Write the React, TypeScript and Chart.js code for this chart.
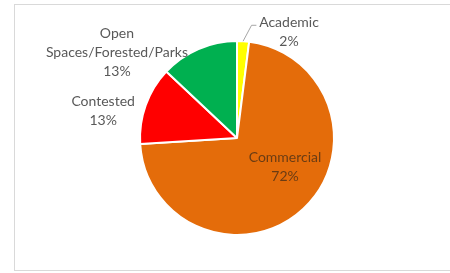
import React, { useEffect, useRef } from "react";
import { Chart, registerables } from "chart.js";

Chart.register(...registerables);

const categories = ["Academic", "Commercial", "Contested", "Open Spaces/Forested/Parks"];
const labelLines = [["Academic"], ["Commercial"], ["Contested"], ["Open", "Spaces/Forested/Parks"]];
const values = [2, 72, 13, 13];
const percentLabels = ["2%", "72%", "13%", "13%"];
const colors = ["#FFFF00", "#E46C0A", "#FF0000", "#00B050"];

const FONT = "14px Lato, 'Open Sans', sans-serif";
const LINE_H = 19;

const framePlugin = {
  id: "frame",
  beforeDraw(chart: any) {
    const ctx = chart.ctx;
    ctx.save();
    ctx.fillStyle = "#ffffff";
    ctx.fillRect(0, 0, chart.width, chart.height);
    ctx.strokeStyle = "#d9d9d9";
    ctx.lineWidth = 1;
    ctx.strokeRect(14.5, 4.5, chart.width, chart.height - 7);
    ctx.restore();
  },
};

const labelPlugin = {
  id: "pieLabels",
  afterDatasetsDraw(chart: any) {
    const ctx = chart.ctx;
    const meta = chart.getDatasetMeta(0);
    const arcs = meta.data;
    if (!arcs.length) return;
    const cx = arcs[0].x;
    const cy = arcs[0].y;
    const R = arcs[0].outerRadius;
    // label centres (offsets in units of radius from pie centre)
    const offs = [
      [0.536, -1.095],
      [0.495, 0.3],
      [-1.38, -0.275],
      [-1.238, -0.885],
    ];
    ctx.save();
    ctx.font = FONT;
    ctx.textAlign = "center";
    ctx.textBaseline = "middle";
    arcs.forEach((arc: any, i: number) => {
      const lines = [...labelLines[i], percentLabels[i]];
      const x = cx + offs[i][0] * R;
      const yc = cy + offs[i][1] * R;
      const y0 = yc - ((lines.length - 1) * LINE_H) / 2;
      ctx.fillStyle = i === 1 ? "#6a3c14" : "#595959";
      lines.forEach((t, k) => ctx.fillText(t, x, y0 + k * LINE_H));
      if (i === 0) {
        const mid = (arc.startAngle + arc.endAngle) / 2;
        const px = cx + Math.cos(mid) * R;
        const py = cy + Math.sin(mid) * R;
        ctx.strokeStyle = "#a6a6a6";
        ctx.lineWidth = 1;
        ctx.beginPath();
        ctx.moveTo(px, py);
        ctx.lineTo(cx + 0.15 * R, y0 + 3);
        ctx.lineTo(cx + 0.2 * R, y0 + 3);
        ctx.stroke();
      }
    });
    ctx.restore();
  },
};

export default function App() {
  const ref = useRef<HTMLCanvasElement>(null);
  useEffect(() => {
    document.body.style.margin = "0";
    const chart = new Chart(ref.current!, {
      type: "pie",
      data: {
        labels: categories,
        datasets: [
          {
            data: values,
            backgroundColor: colors,
            borderColor: "#ffffff",
            borderWidth: 2,
          },
        ],
      },
      options: {
        animation: false,
        responsive: false,
        layout: { padding: { left: 139, right: 115, top: 40, bottom: 37 } },
        plugins: {
          legend: { display: false },
          tooltip: { enabled: false },
        },
      },
      plugins: [framePlugin, labelPlugin],
    });
    return () => chart.destroy();
  }, []);
  return (
    <div style={{ position: "fixed", left: 0, top: 0, width: 450, height: 273 }}>
      <canvas ref={ref} width={450} height={273} />
    </div>
  );
}
